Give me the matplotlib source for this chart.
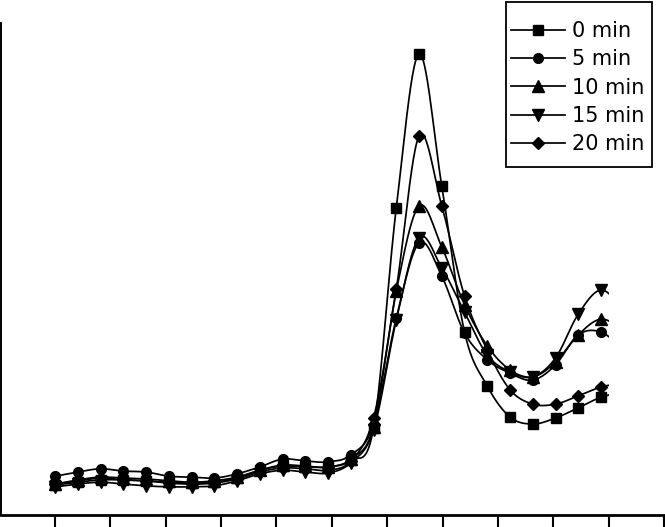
import numpy as np
import matplotlib
matplotlib.use("Agg")
import matplotlib.pyplot as plt
from matplotlib.patches import Rectangle
from matplotlib.ticker import MultipleLocator
from matplotlib.lines import Line2D

# ---- data (point index along the x axis; the last point is cut off at the right) ----
x_idx = [0, 1, 2, 3, 4, 5, 6, 7, 8, 9, 10, 11, 12, 13, 14, 15, 16, 17, 18, 19, 20, 21, 22, 23, 24, 25]

labels = ["0 min", "5 min", "10 min", "15 min", "20 min"]

y_0min = [0.100, 0.106, 0.111, 0.111, 0.109, 0.106, 0.104, 0.106, 0.115, 0.132, 0.141, 0.139, 0.139,
          0.154, 0.223, 0.700, 1.033, 0.747, 0.431, 0.314, 0.247, 0.232, 0.245, 0.267, 0.290, 0.301]
y_5min = [0.119, 0.128, 0.135, 0.130, 0.128, 0.119, 0.117, 0.115, 0.124, 0.139, 0.156, 0.152, 0.150,
          0.165, 0.230, 0.461, 0.624, 0.552, 0.429, 0.371, 0.342, 0.327, 0.360, 0.425, 0.431, 0.392]
y_10min = [0.102, 0.111, 0.117, 0.115, 0.113, 0.109, 0.106, 0.109, 0.117, 0.132, 0.143, 0.141, 0.139,
           0.156, 0.226, 0.520, 0.704, 0.615, 0.490, 0.401, 0.349, 0.334, 0.366, 0.425, 0.459, 0.435]
y_15min = [0.096, 0.102, 0.106, 0.102, 0.098, 0.096, 0.096, 0.098, 0.109, 0.124, 0.132, 0.128, 0.126,
           0.148, 0.219, 0.457, 0.635, 0.570, 0.474, 0.381, 0.345, 0.334, 0.375, 0.470, 0.522, 0.479]
y_20min = [0.102, 0.109, 0.115, 0.111, 0.109, 0.104, 0.102, 0.104, 0.113, 0.128, 0.137, 0.135, 0.132,
           0.152, 0.245, 0.524, 0.855, 0.704, 0.509, 0.392, 0.306, 0.275, 0.275, 0.293, 0.312, 0.321]

series = [y_0min, y_5min, y_10min, y_15min, y_20min]
markers = ["s", "o", "^", "v", "D"]
msizes = [7.0, 7.0, 8.0, 8.0, 6.5]

y_ticks = [0.1, 0.2, 0.3, 0.4, 0.5, 0.6, 0.7, 0.8, 0.9, 1.0, 1.1]


def smooth(xs, ys, n=24):
    """Excel-like smoothed line (Catmull-Rom Bezier) through the data points."""
    xs = np.asarray(xs, float)
    ys = np.asarray(ys, float)
    px = np.concatenate([[2 * xs[0] - xs[1]], xs, [2 * xs[-1] - xs[-2]]])
    py = np.concatenate([[2 * ys[0] - ys[1]], ys, [2 * ys[-1] - ys[-2]]])
    out_x, out_y = [], []
    t = np.linspace(0, 1, n, endpoint=False)
    for i in range(1, len(px) - 2):
        p0x, p1x, p2x, p3x = px[i - 1:i + 3]
        p0y, p1y, p2y, p3y = py[i - 1:i + 3]
        c1x, c1y = p1x + (p2x - p0x) / 6, p1y + (p2y - p0y) / 6
        c2x, c2y = p2x - (p3x - p1x) / 6, p2y - (p3y - p1y) / 6
        bx = (1 - t) ** 3 * p1x + 3 * (1 - t) ** 2 * t * c1x + 3 * (1 - t) * t ** 2 * c2x + t ** 3 * p2x
        by = (1 - t) ** 3 * p1y + 3 * (1 - t) ** 2 * t * c1y + 3 * (1 - t) * t ** 2 * c2y + t ** 3 * p2y
        out_x.extend(bx)
        out_y.extend(by)
    out_x.append(xs[-1])
    out_y.append(ys[-1])
    return np.array(out_x), np.array(out_y)


plt.rcParams['font.family'] = ['DejaVu Sans']

W, H = 665, 527
fig = plt.figure(figsize=(W / 100, H / 100), dpi=100)
ax = fig.add_axes([1 / W, 12 / H, 679 / W, 492 / H])

x_left, x_right = -2.374, 27.47
ax.set_xlim(x_left, x_right)
ax.set_ylim(0.035, 1.1)

clip = Rectangle((x_left, 0.035), 24.37 - x_left, 1.2, transform=ax.transData,
                 facecolor="none", edgecolor="none")
ax.add_patch(clip)

handles = []
for ys, m, ms, lab in zip(series, markers, msizes, labels):
    sx, sy = smooth(x_idx, ys)
    ln, = ax.plot(sx, sy, color="black", lw=1.25, zorder=2)
    ln.set_clip_path(clip)
    mk, = ax.plot(x_idx, ys, linestyle="none", marker=m, markersize=ms, color="black", zorder=3)
    mk.set_clip_path(clip)
    handles.append(Line2D([], [], color="black", lw=1.25, marker=m, markersize=ms))

for side in ["top", "right"]:
    ax.spines[side].set_visible(False)
ax.spines["bottom"].set_linewidth(2.0)
ax.spines["left"].set_linewidth(1.4)

ax.xaxis.set_major_locator(MultipleLocator(2.4335))
ax.set_yticks(y_ticks)
ax.tick_params(axis="x", direction="out", length=9, width=1.5, labelbottom=False)
ax.tick_params(axis="y", direction="out", length=5, width=1.2, labelleft=False)

# legend content (frame drawn separately as a plain box)
leg = fig.legend(handles, labels, loc="center left",
                 bbox_to_anchor=(511 / W, 1 - 87.5 / H), bbox_transform=fig.transFigure,
                 fontsize=15, frameon=False, handlelength=2.6, handletextpad=0.33,
                 labelspacing=0.4, borderpad=0.0, borderaxespad=0.0)
box = Rectangle((506 / W, 1 - 166.5 / H), (652 - 506) / W, (166.5 - 1.5) / H,
                transform=fig.transFigure, facecolor="none", edgecolor="black",
                linewidth=1.3, zorder=5)
fig.patches.append(box)

fig.savefig("out.png", dpi=100)
